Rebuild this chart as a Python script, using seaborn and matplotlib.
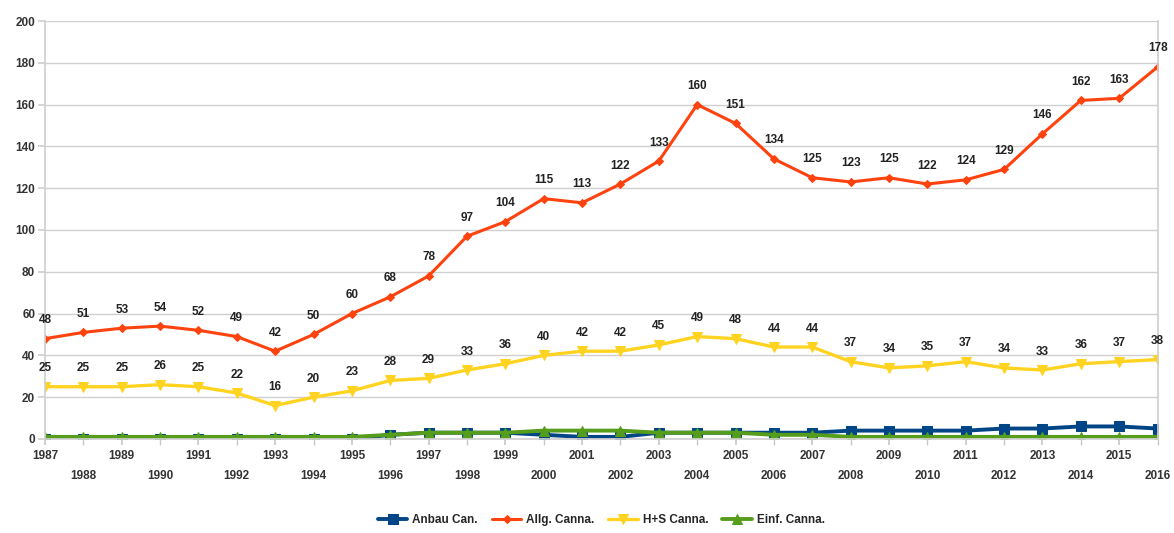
import numpy as np
import pandas as pd
import seaborn as sns
import matplotlib.pyplot as plt

sns.set_theme(style="white")
plt.rcParams['font.family'] = ['Liberation Sans', 'DejaVu Sans']

years = list(range(1987, 2017))
anbau = [0, 0, 0, 0, 0, 0, 0, 0, 0, 2, 3, 3, 3, 2, 1, 1, 3, 3, 3, 3, 3, 4, 4, 4, 4, 5, 5, 6, 6, 5]
allg = [48, 51, 53, 54, 52, 49, 42, 50, 60, 68, 78, 97, 104, 115, 113, 122, 133, 160, 151, 134,
        125, 123, 125, 122, 124, 129, 146, 162, 163, 178]
hs = [25, 25, 25, 26, 25, 22, 16, 20, 23, 28, 29, 33, 36, 40, 42, 42, 45, 49, 48, 44,
      44, 37, 34, 35, 37, 34, 33, 36, 37, 38]
einf = [1, 1, 1, 1, 1, 1, 1, 1, 1, 2, 3, 3, 3, 4, 4, 4, 3, 3, 3, 2, 2, 1, 1, 1, 1, 1, 1, 1, 1, 1]

names = ["Anbau Can.", "Allg. Canna.", "H+S Canna.", "Einf. Canna."]
colors = ["#004586", "#ff420e", "#ffd320", "#579d1c"]
markers = ["s", "D", "v", "^"]
msizes = [7, 4.5, 7, 7.5]
widths = [2.8, 2.2, 2.4, 2.8]

fig = plt.figure(figsize=(11.74, 5.33), dpi=100)
ax = fig.add_axes([0.0383, 0.1764, 0.9477, 0.7842])

for vals, name, c, m, ms, lw in zip([anbau, allg, hs, einf], names, colors, markers, msizes, widths):
    sns.lineplot(x=years, y=vals, ax=ax, color=c, marker=m, markersize=ms,
                 markeredgecolor=c, linewidth=lw, label=name)

# data labels only for the two upper series
for vals in [allg, hs]:
    for x, v in zip(years, vals):
        ax.annotate(str(v), (x, v), xytext=(0, 9), textcoords="offset points",
                    ha="center", va="bottom", fontsize=8.5, fontweight="bold", color="#222222")

ax.set_xlim(1987, 2016)
ax.set_ylim(0, 200)
ax.set_yticks(range(0, 201, 20))
ax.yaxis.grid(True, color="#d0d0d0", linewidth=1)
ax.set_axisbelow(True)

ax.set_xticks(years[::2])
ax.set_xticks(years[1::2], minor=True)
ax.set_xticklabels([str(y) for y in years[::2]])
ax.set_xticklabels([str(y) for y in years[1::2]], minor=True)
ax.tick_params(axis="x", which="major", length=4, pad=4, color="#c8c8c8",
               labelsize=8.5, bottom=True)
ax.tick_params(axis="x", which="minor", length=4, pad=18, color="#c8c8c8",
               labelsize=8.5, bottom=True)
ax.tick_params(axis="y", length=5, color="#d0d0d0", labelsize=8.5, left=True, pad=2)
for lab in ax.get_xticklabels(which="both") + ax.get_yticklabels():
    lab.set_fontweight("bold")
    lab.set_color("#333333")

ax.spines["top"].set_visible(False)
for s in ["left", "right", "bottom"]:
    ax.spines[s].set_color("#d0d0d0")
ax.set_xlabel("")
ax.set_ylabel("")

ax.legend(loc="center", bbox_to_anchor=(0.5, -0.195), ncol=4, frameon=False,
          handlelength=2.5, columnspacing=1.2, handletextpad=0.4,
          prop={"weight": "bold", "size": 8.5})

fig.savefig("out.png", dpi=100)
